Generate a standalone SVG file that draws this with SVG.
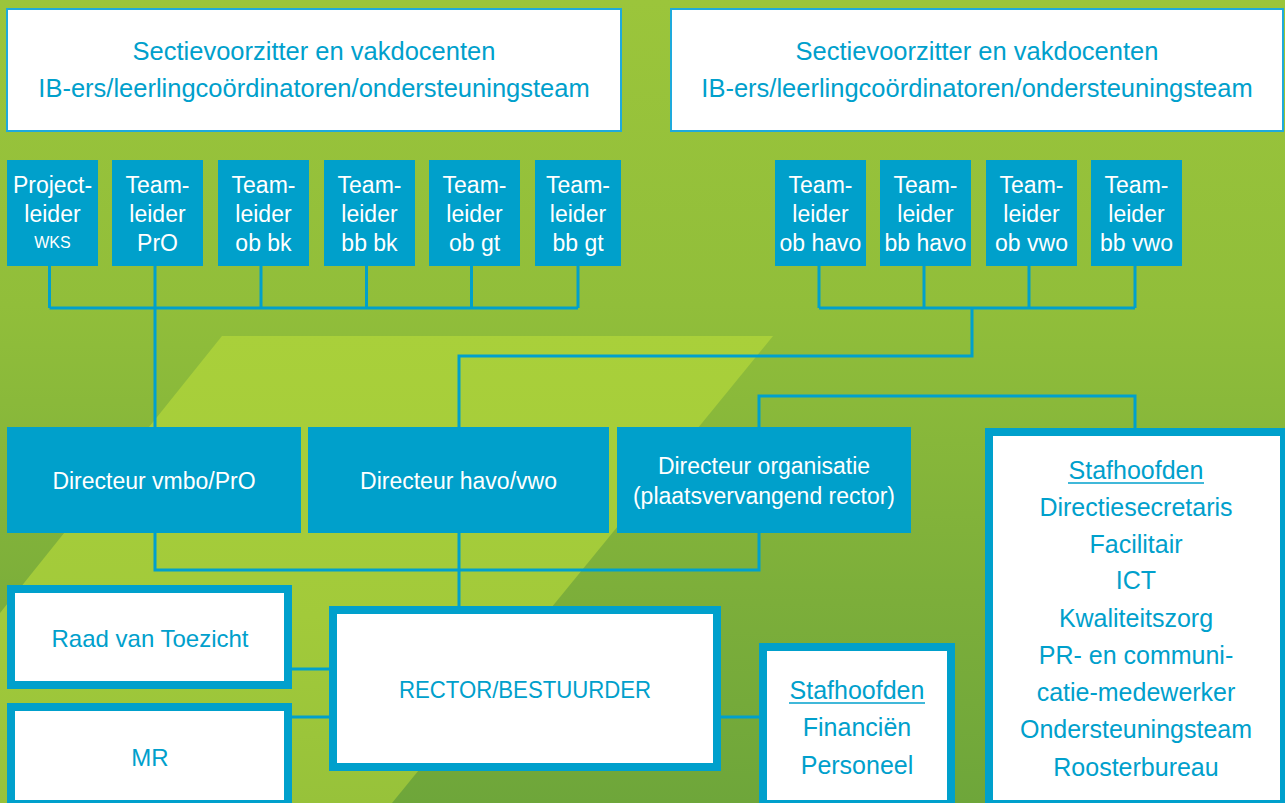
<svg xmlns="http://www.w3.org/2000/svg" width="1285" height="803" viewBox="0 0 1285 803">
<defs>
<linearGradient id="bg" x1="0" y1="0" x2="0" y2="803" gradientUnits="userSpaceOnUse">
<stop offset="0" stop-color="#9bc53b"/>
<stop offset="0.38" stop-color="#91be3a"/>
<stop offset="0.55" stop-color="#87b73a"/>
<stop offset="0.75" stop-color="#7cae3a"/>
<stop offset="1" stop-color="#6ea63a"/>
</linearGradient>
<linearGradient id="lt" x1="0" y1="336" x2="0" y2="803" gradientUnits="userSpaceOnUse">
<stop offset="0" stop-color="#a9d03a"/>
<stop offset="0.6" stop-color="#a2ca3a"/>
<stop offset="1" stop-color="#97c23a"/>
</linearGradient>
</defs>
<style>
text{font-family:"Liberation Sans",Arial,sans-serif;text-anchor:middle}
.top{fill:#ffffff;stroke:#1eaadc;stroke-width:2}
.team{fill:#00a0cb}
.wbox{fill:#ffffff;stroke:#00a0cc;stroke-width:8}
.tw{fill:#ffffff;font-size:23px}
.tb{fill:#00a0cc;font-size:25px}
.tt{fill:#00a0cc;font-size:25.5px}
.conn{fill:none;stroke:#00a0cc;stroke-width:3}
.ul{stroke:#00a0cc;stroke-width:1.5}
</style>
<rect x="0" y="0" width="1285" height="803" fill="url(#bg)"/>
<polygon points="222,336 773,336 392,803 0,803 0,613" fill="url(#lt)"/>

<g id="connectors" class="conn">
<path d="M49.5,266 V308 M155,266 V427 M261,266 V308 M366.5,266 V308 M471.5,266 V308 M578,266 V308 M49.5,308 H578"/>
<path d="M819,266 V308 M924,266 V308 M1029,266 V308 M1135,266 V308 M819,308 H1135 M972,308 V356 H459 V427"/>
<path d="M759,427 V396 H1135 V428"/>
<path d="M155,533 V570 H759 V533 M459,533 V606"/>
<path d="M292,669 H329 M292,717 H329 M721,717 H759"/>
</g>

<g id="top-left">
<rect class="top" x="7" y="9" width="614" height="122"/>
<text class="tt" x="314" y="60">Sectievoorzitter en vakdocenten</text>
<text class="tt" x="314" y="97">IB-ers/leerlingcoördinatoren/ondersteuningsteam</text>
</g>
<g id="top-right">
<rect class="top" x="671" y="9" width="612" height="122"/>
<text class="tt" x="977" y="60">Sectievoorzitter en vakdocenten</text>
<text class="tt" x="977" y="97">IB-ers/leerlingcoördinatoren/ondersteuningsteam</text>
</g>

<g id="projectleider-wks">
<rect class="team" x="7" y="160" width="91" height="106"/>
<text class="tw" x="52.5" y="193">Project-</text>
<text class="tw" x="52.5" y="222">leider</text>
<text class="tw" x="52.5" y="248" style="font-size:16px">WKS</text>
</g>
<g id="teamleider-pro">
<rect class="team" x="112" y="160" width="91" height="106"/>
<text class="tw" x="157.5" y="193">Team-</text>
<text class="tw" x="157.5" y="222">leider</text>
<text class="tw" x="157.5" y="251">PrO</text>
</g>
<g id="teamleider-ob-bk">
<rect class="team" x="218" y="160" width="91" height="106"/>
<text class="tw" x="263.5" y="193">Team-</text>
<text class="tw" x="263.5" y="222">leider</text>
<text class="tw" x="263.5" y="251">ob bk</text>
</g>
<g id="teamleider-bb-bk">
<rect class="team" x="324" y="160" width="91" height="106"/>
<text class="tw" x="369.5" y="193">Team-</text>
<text class="tw" x="369.5" y="222">leider</text>
<text class="tw" x="369.5" y="251">bb bk</text>
</g>
<g id="teamleider-ob-gt">
<rect class="team" x="429" y="160" width="91" height="106"/>
<text class="tw" x="474.5" y="193">Team-</text>
<text class="tw" x="474.5" y="222">leider</text>
<text class="tw" x="474.5" y="251">ob gt</text>
</g>
<g id="teamleider-bb-gt">
<rect class="team" x="535" y="160" width="86" height="106"/>
<text class="tw" x="578" y="193">Team-</text>
<text class="tw" x="578" y="222">leider</text>
<text class="tw" x="578" y="251">bb gt</text>
</g>

<g id="teamleider-ob-havo">
<rect class="team" x="775" y="160" width="91" height="106"/>
<text class="tw" x="820.5" y="193">Team-</text>
<text class="tw" x="820.5" y="222">leider</text>
<text class="tw" x="820.5" y="251">ob havo</text>
</g>
<g id="teamleider-bb-havo">
<rect class="team" x="880" y="160" width="91" height="106"/>
<text class="tw" x="925.5" y="193">Team-</text>
<text class="tw" x="925.5" y="222">leider</text>
<text class="tw" x="925.5" y="251">bb havo</text>
</g>
<g id="teamleider-ob-vwo">
<rect class="team" x="986" y="160" width="91" height="106"/>
<text class="tw" x="1031.5" y="193">Team-</text>
<text class="tw" x="1031.5" y="222">leider</text>
<text class="tw" x="1031.5" y="251">ob vwo</text>
</g>
<g id="teamleider-bb-vwo">
<rect class="team" x="1091" y="160" width="91" height="106"/>
<text class="tw" x="1136.5" y="193">Team-</text>
<text class="tw" x="1136.5" y="222">leider</text>
<text class="tw" x="1136.5" y="251">bb vwo</text>
</g>

<g id="directeur-vmbo">
<rect class="team" x="7" y="427" width="294" height="106"/>
<text class="tw" x="154" y="489">Directeur vmbo/PrO</text>
</g>
<g id="directeur-havo-vwo">
<rect class="team" x="308" y="427" width="301" height="106"/>
<text class="tw" x="458.5" y="489">Directeur havo/vwo</text>
</g>
<g id="directeur-organisatie">
<rect class="team" x="617" y="427" width="294" height="106"/>
<text class="tw" x="764" y="474">Directeur organisatie</text>
<text class="tw" x="764" y="504">(plaatsvervangend rector)</text>
</g>

<g id="stafhoofden-groot">
<rect class="wbox" x="989" y="432" width="295" height="372"/>
<text class="tb" x="1136" y="479">Stafhoofden</text>
<line class="ul" x1="1068" y1="483" x2="1204" y2="483"/>
<text class="tb" x="1136" y="516">Directiesecretaris</text>
<text class="tb" x="1136" y="553">Facilitair</text>
<text class="tb" x="1136" y="589">ICT</text>
<text class="tb" x="1136" y="627">Kwaliteitszorg</text>
<text class="tb" x="1136" y="664">PR- en communi-</text>
<text class="tb" x="1136" y="701">catie-medewerker</text>
<text class="tb" x="1136" y="738">Ondersteuningsteam</text>
<text class="tb" x="1136" y="776">Roosterbureau</text>
</g>

<g id="raad-van-toezicht">
<rect class="wbox" x="11" y="589" width="277" height="96"/>
<text class="tb" x="150" y="647" style="font-size:24px">Raad van Toezicht</text>
</g>
<g id="mr">
<rect class="wbox" x="11" y="707" width="277" height="97"/>
<text class="tb" x="150" y="766" style="font-size:24px">MR</text>
</g>
<g id="rector">
<rect class="wbox" x="333" y="610" width="384" height="157"/>
<text class="tb" x="525" y="698" style="font-size:24px" textLength="252" lengthAdjust="spacingAndGlyphs">RECTOR/BESTUURDER</text>
</g>
<g id="stafhoofden-klein">
<rect class="wbox" x="763" y="647" width="188" height="157"/>
<text class="tb" x="857" y="699">Stafhoofden</text>
<line class="ul" x1="789" y1="703" x2="925" y2="703"/>
<text class="tb" x="857" y="736">Financiën</text>
<text class="tb" x="857" y="774">Personeel</text>
</g>
</svg>
